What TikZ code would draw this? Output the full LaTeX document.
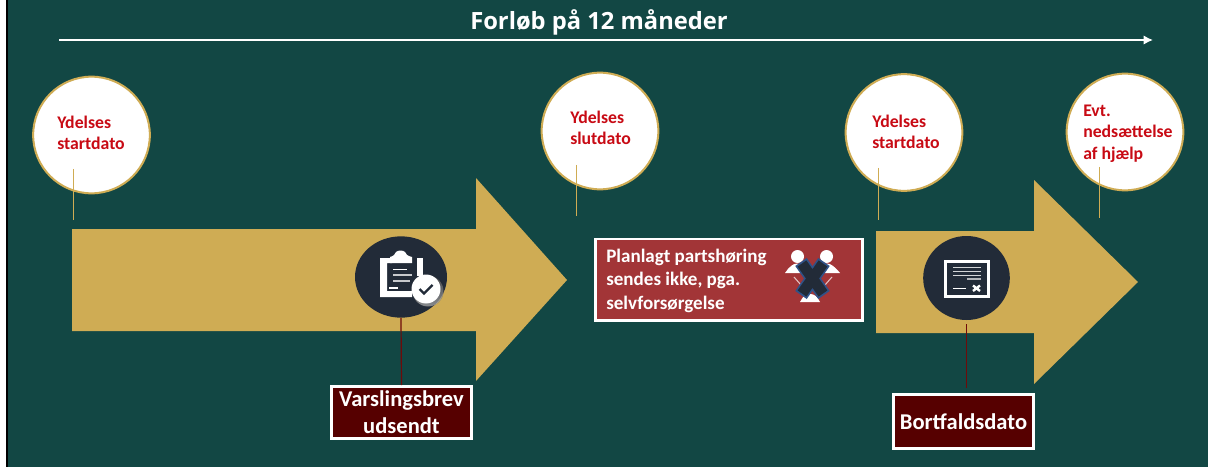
\documentclass[tikz,border=0pt]{standalone}
\usepackage{fontspec}
\setmainfont{Carlito}
\newfontfamily\titlefont{Open Sans}
\usetikzlibrary{arrows.meta,shapes.geometric}
\definecolor{bgteal}{HTML}{124744}
\definecolor{gold}{HTML}{CFAC54}
\definecolor{navy}{HTML}{222B38}
\definecolor{wine}{HTML}{560000}
\definecolor{stemred}{HTML}{6E0A0A}
\definecolor{txtred}{HTML}{C80A14}
\definecolor{boxred}{HTML}{A23537}
\definecolor{xblue}{HTML}{2F5288}
\definecolor{shade}{HTML}{141A22}
\tikzset{
  x=0.75pt,y=-0.75pt,
  datecircle/.style={circle,draw=gold,line width=1.5pt,fill=white,minimum size=87.5pt,inner sep=0pt},
  datetext/.style={anchor=north west,align=left,inner sep=0pt,text=txtred,font=\fontsize{13.3}{15.9}\selectfont\bfseries},
  tick/.style={draw=gold,line width=0.7pt},
  bigarrow/.style={fill=gold,draw=none},
  iconcircle/.style={ellipse,fill=navy,inner sep=0pt},
  winebox/.style={draw=white,line width=2pt,fill=wine,text=white,inner sep=0pt,align=center,font=\fontsize{16.9}{20.5}\selectfont\bfseries},
  stem/.style={draw=stemred,line width=0.9pt},
}
\begin{document}
\begin{tikzpicture}
\useasboundingbox (0,0) rectangle (1208,467);
\fill[white] (0,0) rectangle (1208,467);
\fill[bgteal] (6,0) rectangle (1208,467);
\fill[black] (6,0) rectangle (7.5,467);
% timeline
\node[inner sep=0pt,text=white,font=\titlefont\fontsize{17.8}{21}\selectfont\bfseries] (title) at (599,22) {Forløb på 12 måneder};
\coordinate (tlA) at (59,40);
\coordinate (tlB) at (1153,40);
\draw[white,line width=1.2pt,-{Latex[length=7pt,width=7pt]}] (tlA) -- (tlB);
% big arrows
\fill[bigarrow] (72,229) -- (476,229) -- (476,178) -- (567,280) -- (476,381) -- (476,331) -- (72,331) -- cycle;
\fill[bigarrow] (876,231) -- (1034,231) -- (1034,180) -- (1138,282) -- (1034,384) -- (1034,333) -- (876,333) -- cycle;
% date circles
\node[datecircle] (c1) at (91.5,135) {};
\node[datecircle] (c2) at (600,131) {};
\node[datecircle] (c3) at (904,132.5) {};
\node[datecircle] (c4) at (1125,132) {};
\node[datetext] (t1) at (57,115.5) {Ydelses\\startdato};
\node[datetext] (t2) at (570,110.5) {Ydelses\\slutdato};
\node[datetext] (t3) at (872,114.5) {Ydelses\\startdato};
\node[datetext] (t4) at (1083,105) {Evt.\\nedsættelse\\af hjælp};
% ticks
\coordinate (k1a) at (73,169); \coordinate (k1b) at (73,220);
\coordinate (k2a) at (576,165); \coordinate (k2b) at (576,216);
\coordinate (k3a) at (878,168); \coordinate (k3b) at (878,220);
\coordinate (k4a) at (1099,167); \coordinate (k4b) at (1099,218);
\draw[tick] (k1a) -- (k1b);
\draw[tick] (k2a) -- (k2b);
\draw[tick] (k3a) -- (k3b);
\draw[tick] (k4a) -- (k4b);
% icon circles
\node[iconcircle,minimum width=69pt,minimum height=61pt] (i1) at (401,277) {};
\node[iconcircle,minimum width=65pt,minimum height=63pt] (i2) at (966.5,278) {};
% wine boxes
\node[winebox,minimum width=105pt,minimum height=39pt] (b1) at (401.5,412.5) {Varslingsbrev\\udsendt};
\node[winebox,minimum width=105pt,minimum height=40.5pt] (b2) at (963.5,421.5) {Bortfaldsdato};
\draw[stem] (i1.south) -- (b1.north);
\coordinate (s2) at (966.5,324);
\coordinate (s2b) at (966.5,388);
\draw[stem] (s2) -- (s2b);
% red box
\node[draw=white,line width=2pt,fill=boxred,minimum width=200pt,minimum height=61pt,inner sep=0pt] (r) at (729,279.5) {};
\node[anchor=north west,align=left,inner sep=0pt,text=white,font=\fontsize{14.3}{17.6}\selectfont\bfseries] (rt) at (606,248.5) {Planlagt partshøring\\sendes ikke, pga.\\selvforsørgelse};
% clipboard icon
\fill[white] (380,258) -- (392,258) -- (392,263) -- (387,263) -- (387,291) -- (412,291) -- (412,297) -- (380,297) -- cycle;
\fill[white] (417,258) -- (423,258) -- (423,276) -- (417,276) -- cycle;
\fill[white] (390,263) -- (390,257) .. controls (394,256) and (395,254) .. (396,252) .. controls (398,250) and (403,250) .. (405,252) .. controls (406,254) and (407,256) .. (412,257) -- (412,263) -- cycle;
\draw[white,line width=1.2pt] (393,269.5) -- (407,269.5);
\draw[white!75!navy,line width=1.2pt] (393,275) -- (412,275);
\draw[white!75!navy,line width=1.2pt] (393,281) -- (410,281);
\draw[white,line width=1.2pt] (389,288) -- (398,288);
\fill[shade,opacity=.5] (428,291) circle[radius=15.5];
\fill[white] (426,289) circle[radius=14.5];
\draw[navy,line width=1.6pt] (419.5,289) -- (424,293.5) -- (432.5,285);
% paper icon
\draw[white,line width=2pt,fill=navy] (945.3,261.3) rectangle (988.7,296.7);
\draw[white!80!navy,line width=1.3pt] (953,267.5) -- (981,267.5);
\draw[white!80!navy,line width=1.3pt] (953,271.5) -- (981,271.5);
\draw[white!80!navy,line width=1.3pt] (953,275.5) -- (981,275.5);
\draw[white!65!navy,line width=1.3pt] (967,279) -- (981,279);
\draw[white,line width=1.3pt] (953,288.5) -- (966,288.5);
\draw[white,line width=1.8pt] (973,285.5) -- (980,291) (980,285.5) -- (973,291);
% people icon
\fill[white] (797.5,256.5) ellipse[x radius=6.5,y radius=6.5];
\fill[white] (826.5,256.5) ellipse[x radius=6.5,y radius=6.5];
\fill[white] (785,273) .. controls (789,267) and (793,263.5) .. (797,263.5) .. controls (801,263.5) and (805,267) .. (809,273) -- cycle;
\fill[white] (815,273) .. controls (819,267) and (823,263.5) .. (827,263.5) .. controls (831,263.5) and (835,267) .. (840,273) -- cycle;
\fill[white] (800,302) .. controls (803,296) and (806,294) .. (810,294) .. controls (814,294) and (817,296) .. (820,302) -- cycle;
\draw[white!70!boxred,line width=0.8pt] (794,277) -- (801,285) (832,277) -- (825,285);
\draw[xblue,line width=10.5pt,line cap=butt] (801,262) -- (824,295) (824,262) -- (801,295);
\draw[navy,line width=8pt,line cap=butt] (802,263.5) -- (823,293.5) (823,263.5) -- (802,293.5);
\end{tikzpicture}
\end{document}
